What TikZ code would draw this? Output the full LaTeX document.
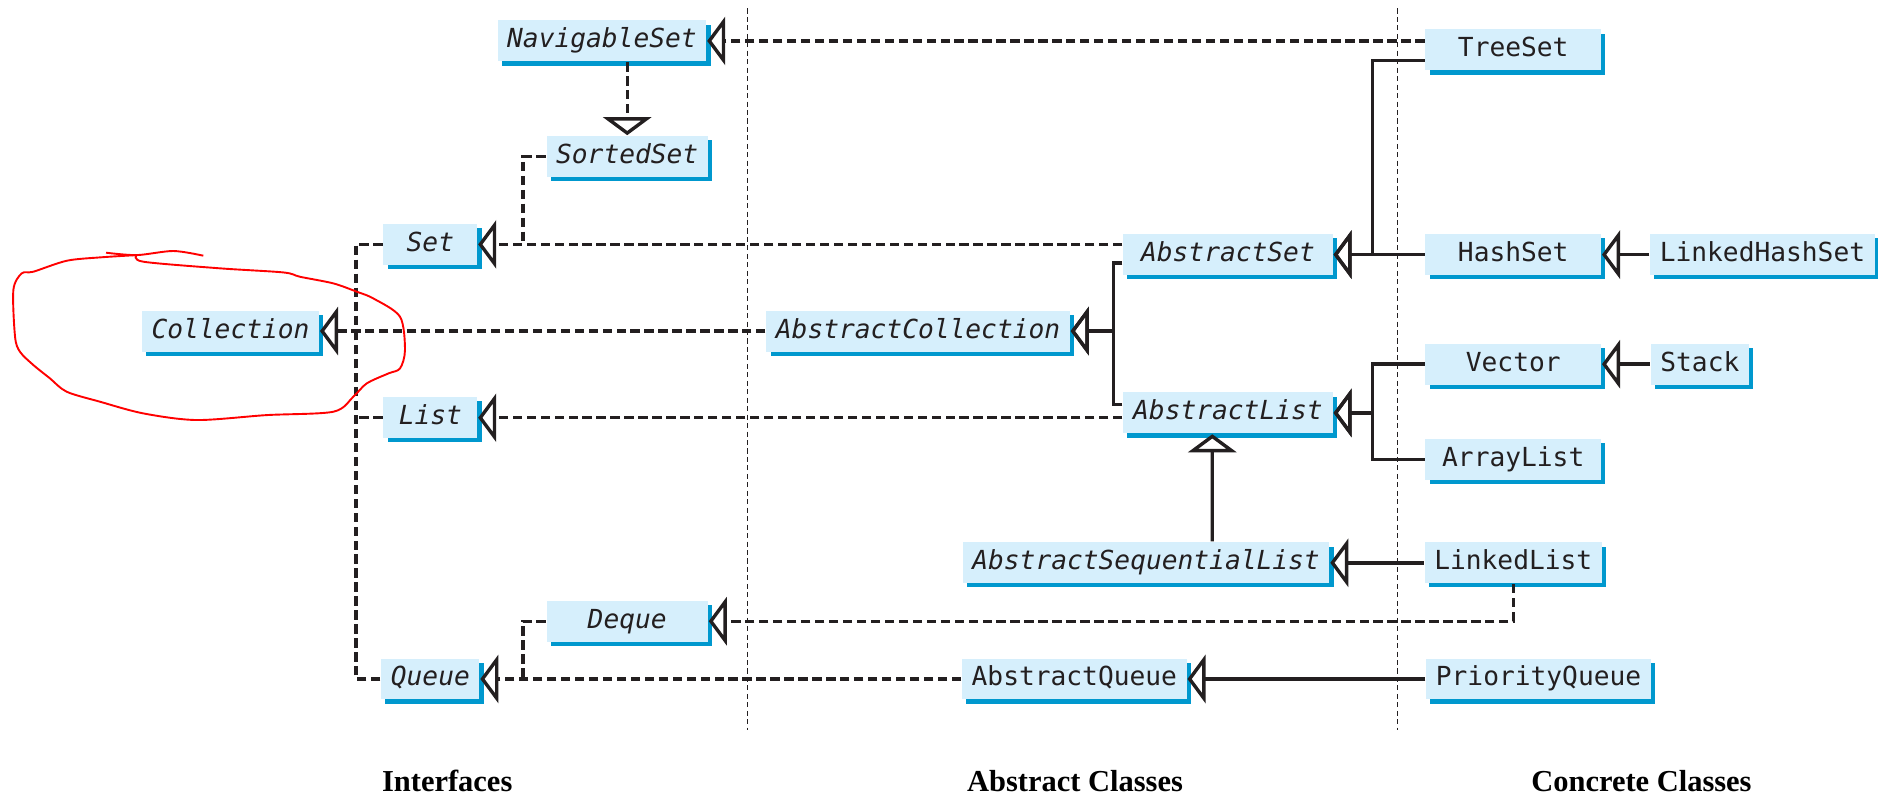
\documentclass[tikz,border=0pt]{standalone}
\usepackage{fontspec}
\setmainfont{Liberation Serif}
\setmonofont{DejaVu Sans Mono}
\usepackage{tikz}
\usetikzlibrary{arrows.meta}
\usetikzlibrary{calc,shadows}
\usepackage{xcolor}
\definecolor{boxfill}{RGB}{214,239,252}
\definecolor{boxshade}{RGB}{0,152,206}
\definecolor{ink}{RGB}{35,31,32}
\tikzset{
    conbox/.style={
        rectangle,
        fill=boxfill,
        drop shadow={shadow xshift=0.035cm, shadow yshift=-0.035cm, fill=boxshade, opacity=1},
        minimum height=0.34cm,
        inner xsep=0.08cm,
        inner ysep=0pt,
        text height=4.6pt,
        text depth=1.3pt,
        text=ink,
        font=\fontsize{6.2}{7}\selectfont\ttfamily
    },
    absbox/.style={
        conbox,
        font=\fontsize{6.2}{7}\selectfont\ttfamily\itshape
    },
    dashline/.style={draw=ink, line width=0.8pt, dash pattern=on 2.2pt off 1.1pt},
    solidline/.style={draw=ink, line width=0.8pt},
    realize/.style={dashline, -{Triangle[open, length=0.15cm, width=0.40cm]}},
    extend/.style={solidline, -{Triangle[open, length=0.15cm, width=0.40cm]}},
    sepline/.style={draw=ink, line width=0.3pt, dash pattern=on 1.2pt off 0.8pt},
    colhead/.style={anchor=base, inner sep=0pt, font=\fontsize{7.2}{8}\selectfont\bfseries},
    scribble/.style={draw=red, line width=0.45pt}
}

\begin{document}
\begin{tikzpicture}
    \useasboundingbox (0,0) rectangle (15.6,-6.604);

    \draw[sepline] (6.21,-0.07) -- (6.21,-6.06);
    \draw[sepline] (11.61,-0.07) -- (11.61,-6.06);

    \node[absbox] (NavigableSet) at (5.00,-0.34) {NavigableSet};
    \node[absbox, minimum width=1.34cm] (SortedSet) at (5.21,-1.30) {SortedSet};
    \node[absbox, minimum width=0.78cm] (Set) at (3.575,-2.03) {Set};
    \node[absbox] (Collection) at (1.915,-2.75) {Collection};
    \node[absbox, minimum width=0.78cm] (List) at (3.575,-3.47) {List};
    \node[absbox, minimum width=1.34cm] (Deque) at (5.21,-5.16) {Deque};
    \node[absbox, minimum width=0.78cm] (Queue) at (3.575,-5.64) {Queue};

    \node[absbox] (AbstractCollection) at (7.626,-2.75) {AbstractCollection};
    \node[absbox, minimum width=1.74cm] (AbstractSet) at (10.20,-2.115) {AbstractSet};
    \node[absbox, minimum width=1.74cm] (AbstractList) at (10.20,-3.43) {AbstractList};
    \node[absbox] (AbstractSeqList) at (9.52,-4.675) {AbstractSequentialList};
    \node[conbox] (AbstractQueue) at (8.924,-5.64) {AbstractQueue};

    \node[conbox, minimum width=1.46cm] (TreeSet) at (12.57,-0.415) {TreeSet};
    \node[conbox, minimum width=1.46cm] (HashSet) at (12.57,-2.115) {HashSet};
    \node[conbox] (LinkedHashSet) at (14.64,-2.115) {LinkedHashSet};
    \node[conbox, minimum width=1.46cm] (Vector) at (12.57,-3.025) {Vector};
    \node[conbox] (Stack) at (14.12,-3.025) {Stack};
    \node[conbox, minimum width=1.46cm] (ArrayList) at (12.57,-3.815) {ArrayList};
    \node[conbox, minimum width=1.46cm] (LinkedList) at (12.57,-4.675) {LinkedList};
    \node[conbox] (PriorityQueue) at (12.78,-5.64) {PriorityQueue};

    \coordinate (ctrunk) at (2.957,-2.75);
    \coordinate (setjoin) at (4.345,-2.03);
    \coordinate (queuejoin) at (4.345,-5.64);
    \coordinate (acjoin) at (9.25,-2.75);
    \coordinate (asjoin) at (11.40,-2.115);
    \coordinate (aljoin) at (11.40,-3.43);

    \draw[realize] (TreeSet.west |- NavigableSet.east) -- (NavigableSet.east);
    \draw[realize] (NavigableSet.south -| SortedSet.north) -- (SortedSet.north);
    \draw[dashline] (SortedSet.west) -| (setjoin);
    \draw[realize] (AbstractSet.west |- Set.east) -- (Set.east);
    \draw[dashline] (Set.west) -| (ctrunk);
    \draw[dashline] (List.west) -- (List.west -| ctrunk);
    \draw[dashline] (Queue.west) -| (ctrunk);
    \draw[realize] (AbstractCollection.west) -- (Collection.east);
    \draw[realize] (AbstractList.west |- List.east) -- (List.east);
    \draw[realize] (LinkedList.south) |- (Deque.east);
    \draw[dashline] (Deque.west) -| (queuejoin);
    \draw[realize] (AbstractQueue.west) -- (Queue.east);

    \draw[extend] ([yshift=-0.07cm]AbstractSet.west) -| (acjoin) -- (AbstractCollection.east);
    \draw[extend] ([yshift=0.07cm]AbstractList.west) -| (acjoin) -- (AbstractCollection.east);
    \draw[extend] ([yshift=-0.09cm]TreeSet.west) -| (asjoin) -- (AbstractSet.east);
    \draw[extend] (HashSet.west) -- (AbstractSet.east);
    \draw[extend] (LinkedHashSet.west) -- (HashSet.east);
    \draw[extend] (Vector.west) -| (aljoin) -- (AbstractList.east);
    \draw[extend] (ArrayList.west) -| (aljoin) -- (AbstractList.east);
    \draw[extend] (Stack.west) -- (Vector.east);
    \draw[extend] ([xshift=0.55cm]AbstractSeqList.north) -- ([xshift=-0.13cm]AbstractList.south);
    \draw[extend] (LinkedList.west) -- (AbstractSeqList.east);
    \draw[extend] (PriorityQueue.west) -- (AbstractQueue.east);

    \node[colhead] (lblIface) at (3.715,-6.576) {Interfaces};
    \node[colhead] (lblAbstract) at (8.93,-6.576) {Abstract Classes};
    \node[colhead] (lblConcrete) at (13.635,-6.576) {Concrete Classes};

    \draw[scribble] plot[smooth] coordinates {(0.881,-2.099) (1.135,-2.119) (1.440,-2.085) (1.689,-2.124)};
    \draw[scribble] plot[smooth] coordinates {(1.135,-2.119) (1.191,-2.174) (1.828,-2.229) (2.354,-2.263)
        (2.492,-2.299) (2.769,-2.354) (2.963,-2.423) (3.101,-2.479) (3.323,-2.631) (3.364,-2.908)
        (3.323,-3.060) (3.226,-3.102) (3.046,-3.185) (2.935,-3.295) (2.769,-3.420) (2.215,-3.448)
        (1.634,-3.489) (1.191,-3.434) (0.831,-3.337) (0.554,-3.254) (0.415,-3.143) (0.277,-3.032)
        (0.166,-2.922) (0.125,-2.797) (0.111,-2.409) (0.180,-2.271) (0.277,-2.257) (0.554,-2.166)
        (0.831,-2.138) (1.135,-2.119)};
\end{tikzpicture}
\end{document}
